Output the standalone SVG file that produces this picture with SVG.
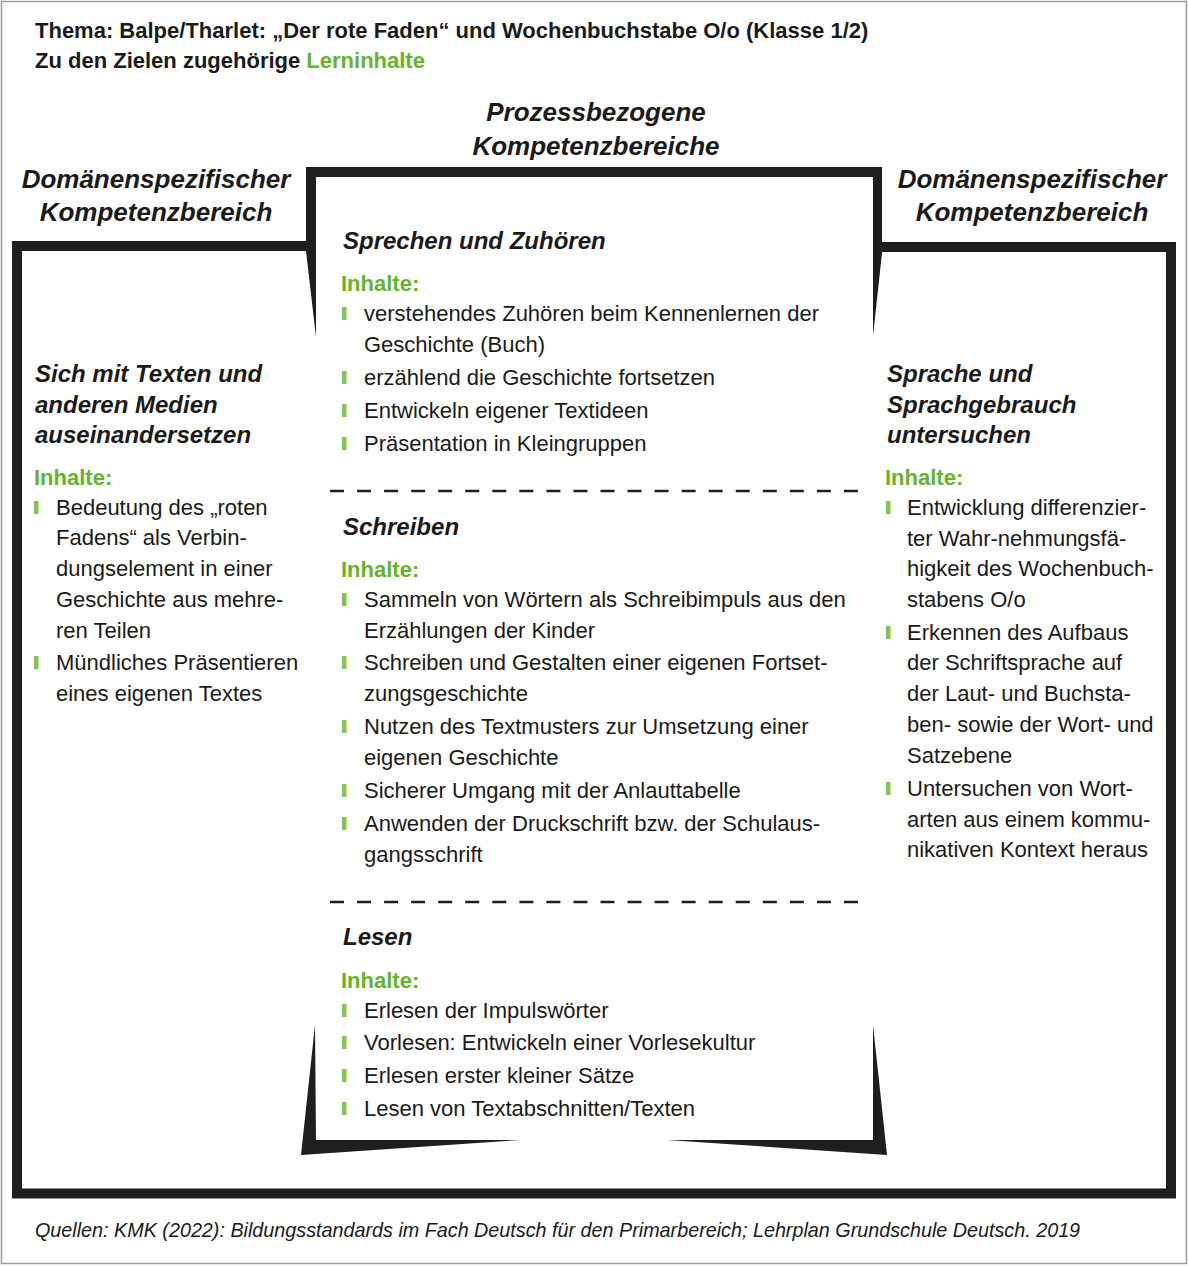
<svg xmlns="http://www.w3.org/2000/svg" width="1188" height="1266" viewBox="0 0 1188 1266">
<style>
text{font-family:"Liberation Sans",Arial,sans-serif;fill:#1a1a1a}
.h{font-size:22px;font-weight:bold}
.t{font-size:22px}
.g{font-size:22px;font-weight:bold;fill:#66b32e}
.sh{font-size:24px;font-weight:bold;font-style:italic}
.bh{font-size:26px;font-weight:bold;font-style:italic}
.src{font-size:19.75px;font-style:italic}
.b{fill:#84c450}
.frame{fill:#1e1e1e}
.dash{stroke:#1e1e1e;stroke-width:2.5;stroke-dasharray:14 13.05}
</style>
<rect x="0" y="0" width="1188" height="1266" fill="#ffffff"/>
<rect x="1.5" y="1.5" width="1185" height="1262" fill="none" stroke="#9a9a9a" stroke-width="1.5"/>

<g id="frames">
  <path d="M306,246 H17 V1193.5 H1171 V247 H882" fill="none" stroke="#1e1e1e" stroke-width="10" stroke-linejoin="miter"/>
  <polygon class="frame" points="306,167 882,167 882,253 873,336 873,177 316,177 316,337 306,251"/>
  <polygon class="frame" points="315,1025 316,1140 520,1140 301,1155"/>
  <polygon class="frame" points="873,1025 873,1140 667,1140 887,1155"/>
  <line class="dash" x1="330" y1="491" x2="858" y2="491"/>
  <line class="dash" x1="330" y1="902" x2="858" y2="902"/>
</g>

<g id="header">
  <text class="h" x="35" y="38">Thema: Balpe/Tharlet: „Der rote Faden“ und Wochenbuchstabe O/o (Klasse 1/2)</text>
  <text class="h" x="35" y="68">Zu den Zielen zugehörige <tspan style="fill:#66b32e">Lerninhalte</tspan></text>
</g>

<g id="heading-prozess">
  <text class="bh" x="596" y="121" text-anchor="middle">Prozessbezogene</text>
  <text class="bh" x="596" y="155" text-anchor="middle">Kompetenzbereiche</text>
</g>
<g id="heading-left">
  <text class="bh" x="156" y="188" text-anchor="middle">Domänenspezifischer</text>
  <text class="bh" x="156" y="221" text-anchor="middle">Kompetenzbereich</text>
</g>
<g id="heading-right">
  <text class="bh" x="1032" y="188" text-anchor="middle">Domänenspezifischer</text>
  <text class="bh" x="1032" y="221" text-anchor="middle">Kompetenzbereich</text>
</g>

<g id="left-texte">
  <text class="sh" x="35" y="382">Sich mit Texten und</text>
  <text class="sh" x="35" y="413">anderen Medien</text>
  <text class="sh" x="35" y="443">auseinandersetzen</text>
  <text class="g" x="34" y="485">Inhalte:</text>
  <rect class="b" x="34" y="501" width="4.5" height="13"/>
  <text class="t" x="56" y="515">Bedeutung des „roten</text>
  <text class="t" x="56" y="545">Fadens“ als Verbin-</text>
  <text class="t" x="56" y="576">dungselement in einer</text>
  <text class="t" x="56" y="607">Geschichte aus mehre-</text>
  <text class="t" x="56" y="638">ren Teilen</text>
  <rect class="b" x="34" y="656" width="4.5" height="13"/>
  <text class="t" x="56" y="670">Mündliches Präsentieren</text>
  <text class="t" x="56" y="701">eines eigenen Textes</text>
</g>

<g id="mid-sprechen">
  <text class="sh" x="343" y="249">Sprechen und Zuhören</text>
  <text class="g" x="341" y="291">Inhalte:</text>
  <rect class="b" x="342" y="307" width="4.5" height="13"/>
  <text class="t" x="364" y="321">verstehendes Zuhören beim Kennenlernen der</text>
  <text class="t" x="364" y="352">Geschichte (Buch)</text>
  <rect class="b" x="342" y="371" width="4.5" height="13"/>
  <text class="t" x="364" y="385">erzählend die Geschichte fortsetzen</text>
  <rect class="b" x="342" y="404" width="4.5" height="13"/>
  <text class="t" x="364" y="418">Entwickeln eigener Textideen</text>
  <rect class="b" x="342" y="437" width="4.5" height="13"/>
  <text class="t" x="364" y="451">Präsentation in Kleingruppen</text>
</g>

<g id="mid-schreiben">
  <text class="sh" x="343" y="535">Schreiben</text>
  <text class="g" x="341" y="577">Inhalte:</text>
  <rect class="b" x="342" y="593" width="4.5" height="13"/>
  <text class="t" x="364" y="607">Sammeln von Wörtern als Schreibimpuls aus den</text>
  <text class="t" x="364" y="638">Erzählungen der Kinder</text>
  <rect class="b" x="342" y="656" width="4.5" height="13"/>
  <text class="t" x="364" y="670">Schreiben und Gestalten einer eigenen Fortset-</text>
  <text class="t" x="364" y="701">zungsgeschichte</text>
  <rect class="b" x="342" y="720" width="4.5" height="13"/>
  <text class="t" x="364" y="734">Nutzen des Textmusters zur Umsetzung einer</text>
  <text class="t" x="364" y="765">eigenen Geschichte</text>
  <rect class="b" x="342" y="784" width="4.5" height="13"/>
  <text class="t" x="364" y="798">Sicherer Umgang mit der Anlauttabelle</text>
  <rect class="b" x="342" y="817" width="4.5" height="13"/>
  <text class="t" x="364" y="831">Anwenden der Druckschrift bzw. der Schulaus-</text>
  <text class="t" x="364" y="862">gangsschrift</text>
</g>

<g id="mid-lesen">
  <text class="sh" x="343" y="945">Lesen</text>
  <text class="g" x="341" y="988">Inhalte:</text>
  <rect class="b" x="342" y="1004" width="4.5" height="13"/>
  <text class="t" x="364" y="1018">Erlesen der Impulswörter</text>
  <rect class="b" x="342" y="1036" width="4.5" height="13"/>
  <text class="t" x="364" y="1050">Vorlesen: Entwickeln einer Vorlesekultur</text>
  <rect class="b" x="342" y="1069" width="4.5" height="13"/>
  <text class="t" x="364" y="1083">Erlesen erster kleiner Sätze</text>
  <rect class="b" x="342" y="1102" width="4.5" height="13"/>
  <text class="t" x="364" y="1116">Lesen von Textabschnitten/Texten</text>
</g>

<g id="right-sprache">
  <text class="sh" x="887" y="382">Sprache und</text>
  <text class="sh" x="887" y="413">Sprachgebrauch</text>
  <text class="sh" x="887" y="443">untersuchen</text>
  <text class="g" x="885" y="485">Inhalte:</text>
  <rect class="b" x="886" y="501" width="4.5" height="13"/>
  <text class="t" x="907" y="515">Entwicklung differenzier-</text>
  <text class="t" x="907" y="546">ter Wahr-nehmungsfä-</text>
  <text class="t" x="907" y="576">higkeit des Wochenbuch-</text>
  <text class="t" x="907" y="607">stabens O/o</text>
  <rect class="b" x="886" y="626" width="4.5" height="13"/>
  <text class="t" x="907" y="640">Erkennen des Aufbaus</text>
  <text class="t" x="907" y="670">der Schriftsprache auf</text>
  <text class="t" x="907" y="701">der Laut- und Buchsta-</text>
  <text class="t" x="907" y="732">ben- sowie der Wort- und</text>
  <text class="t" x="907" y="763">Satzebene</text>
  <rect class="b" x="886" y="782" width="4.5" height="13"/>
  <text class="t" x="907" y="796">Untersuchen von Wort-</text>
  <text class="t" x="907" y="827">arten aus einem kommu-</text>
  <text class="t" x="907" y="857">nikativen Kontext heraus</text>
</g>

<g id="footer">
  <text class="src" x="35" y="1237">Quellen: KMK (2022): Bildungsstandards im Fach Deutsch für den Primarbereich; Lehrplan Grundschule Deutsch. 2019</text>
</g>
</svg>
